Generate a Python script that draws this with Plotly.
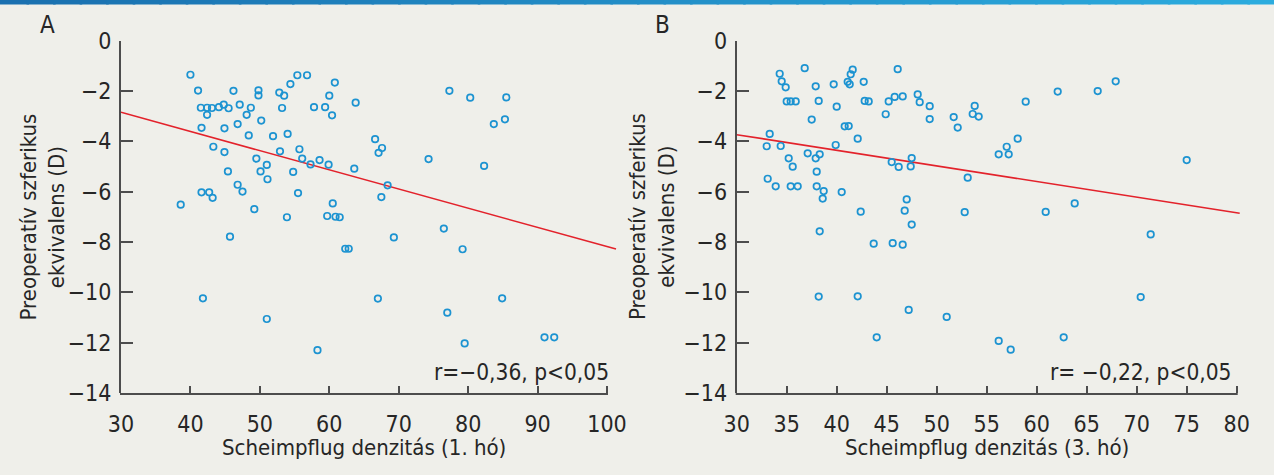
import numpy as np
import plotly.graph_objects as go

# ---------------- data ----------------
# Panel A: Scheimpflug density (1st month) vs preoperative spherical equivalent
density_1m = [40.0, 41.1, 41.5, 42.4, 43.1, 42.4, 44.1, 44.8, 45.5, 46.2, 47.1, 48.1, 48.7, 49.8, 49.8,
              50.2, 41.6, 44.9, 46.8, 48.4, 43.3, 44.9, 49.5, 45.4, 50.1, 51.0, 51.1, 46.8, 47.5, 41.6,
              42.7, 43.2, 38.6, 49.2, 52.8, 53.5, 53.2, 54.4, 55.4, 56.8, 57.8, 59.4, 60.0, 60.8, 60.4,
              63.8, 51.9, 54.0, 52.9, 55.7, 56.1, 57.3, 58.6, 59.9, 63.6, 54.8, 55.5, 60.5, 53.9, 59.7,
              60.9, 61.5, 45.7, 62.3, 62.8, 41.8, 51.0, 58.3, 77.3, 80.3, 85.5, 85.3, 83.7, 66.6, 67.6,
              67.1, 74.3, 82.3, 68.4, 67.5, 69.3, 76.5, 79.2, 67.0, 77.0, 84.9, 79.5, 91.0, 92.4]
se_1m = [-1.36, -1.99, -2.67, -2.67, -2.68, -2.95, -2.65, -2.55, -2.69, -2.00, -2.55, -2.95, -2.67, -1.98, -2.18,
         -3.18, -3.47, -3.49, -3.32, -3.77, -4.22, -4.43, -4.69, -5.20, -5.20, -4.94, -5.51, -5.73, -6.00, -6.03,
         -6.03, -6.25, -6.52, -6.70, -2.07, -2.19, -2.68, -1.73, -1.38, -1.38, -2.65, -2.65, -2.19, -1.67, -2.97,
         -2.47, -3.80, -3.71, -4.40, -4.32, -4.69, -4.92, -4.75, -4.93, -5.09, -5.22, -6.06, -6.47, -7.02, -6.97,
         -7.00, -7.02, -7.79, -8.27, -8.27, -10.24, -11.06, -12.30, -2.00, -2.27, -2.26, -3.13, -3.32, -3.92, -4.27,
         -4.46, -4.71, -4.98, -5.75, -6.22, -7.82, -7.47, -8.29, -10.25, -10.81, -10.24, -12.03, -11.79, -11.79]

# Panel B: Scheimpflug density (3rd month)
density_3m = [34.3, 34.5, 34.9, 35.0, 35.4, 35.9, 36.8, 37.9, 38.2, 37.5, 33.3, 33.0, 34.4, 35.2, 35.6,
              33.1, 33.9, 35.4, 36.1, 37.1, 37.9, 38.3, 38.0, 38.0, 38.7, 38.6, 40.5, 39.7, 40.0, 39.9,
              41.1, 41.3, 41.4, 41.6, 40.8, 41.2, 42.1, 42.7, 42.8, 43.2, 42.4, 44.9, 45.2, 45.8, 46.1,
              46.6, 48.1, 48.3, 49.3, 49.3, 51.7, 52.1, 45.5, 46.2, 47.5, 47.4, 47.0, 46.8, 52.8, 53.1,
              53.8, 53.6, 54.2, 58.9, 62.1, 66.1, 67.9, 58.1, 57.0, 56.2, 57.2, 60.9, 63.8, 75.0, 38.3,
              47.5, 43.7, 45.6, 46.6, 38.2, 42.1, 47.2, 51.0, 44.0, 71.4, 70.4, 56.2, 57.4, 62.7]
se_3m = [-1.32, -1.62, -1.86, -2.42, -2.42, -2.42, -1.10, -1.82, -2.40, -3.14, -3.71, -4.20, -4.19, -4.68, -5.01,
         -5.49, -5.79, -5.79, -5.79, -4.48, -4.68, -4.52, -5.21, -5.79, -5.98, -6.28, -6.02, -1.74, -2.63, -4.15,
         -1.64, -1.74, -1.34, -1.16, -3.41, -3.40, -3.90, -1.64, -2.40, -2.42, -6.80, -2.93, -2.42, -2.24, -1.14,
         -2.22, -2.14, -2.45, -2.61, -3.12, -3.04, -3.46, -4.83, -5.02, -4.67, -5.00, -6.31, -6.76, -6.82, -5.45,
         -2.60, -2.92, -3.02, -2.43, -2.03, -2.01, -1.62, -3.90, -4.22, -4.52, -4.52, -6.81, -6.47, -4.75, -7.58,
         -7.31, -8.07, -8.05, -8.11, -10.17, -10.16, -10.70, -10.98, -11.79, -7.70, -10.19, -11.93, -12.28, -11.79]

# regression lines as shown (value at x=30, slope, end of drawn line)
fit_a = {"x_start": 30.0, "x_end": 101.3, "y_at_start": -2.85, "slope": -0.0762}
fit_b = {"x_start": 30.0, "x_end": 80.3, "y_at_start": -3.74, "slope": -0.0620}

xticks_a = [30, 40, 50, 60, 70, 80, 90, 100]
xticks_b = [30, 35, 40, 45, 50, 55, 60, 65, 70, 75, 80]
yticks = [0, -2, -4, -6, -8, -10, -12, -14]

labels = ["A", "B"]
x_titles = ["Scheimpflug denzitás (1. hó)", "Scheimpflug denzitás (3. hó)"]
y_title = "Preoperatív szferikus<br>ekvivalens (D)"
stats = ["r=−0,36, p<0,05", "r= −0,22, p<0,05"]

# ---------------- style ----------------
W, H = 1274, 475
BG = "#efefea"
FONT = "DejaVu Sans Condensed, Liberation Sans Narrow, Arial Narrow, sans-serif"
TXT = "#262626"
AX = "#4d4d4d"
BLUE = "#1c93d1"
RED = "#e3222b"

def px_x(p):
    return p / W

def px_y(p):
    return 1 - p / H

xr_a = [30, 101.5]
xr_b = [30, 80.4]
dom_a = [px_x(121), px_x(617.4)]
dom_b = [px_x(736.7), px_x(1240.7)]
dom_y = [px_y(393), px_y(40.5)]

fig = go.Figure()

def fit_line(f):
    xs = np.array([f["x_start"], f["x_end"]])
    ys = f["y_at_start"] + f["slope"] * (xs - f["x_start"])
    return xs, ys

marker = dict(symbol="circle-open", size=6.5, color=BLUE, line=dict(width=1.7, color=BLUE))

fx, fy = fit_line(fit_a)
fig.add_trace(go.Scatter(x=fx, y=fy, mode="lines", line=dict(color=RED, width=1.6),
                         xaxis="x", yaxis="y", hoverinfo="skip"))
fig.add_trace(go.Scatter(x=density_1m, y=se_1m, mode="markers", marker=marker,
                         xaxis="x", yaxis="y", cliponaxis=False))
fx, fy = fit_line(fit_b)
fig.add_trace(go.Scatter(x=fx, y=fy, mode="lines", line=dict(color=RED, width=1.6),
                         xaxis="x2", yaxis="y2", hoverinfo="skip"))
fig.add_trace(go.Scatter(x=density_3m, y=se_3m, mode="markers", marker=marker,
                         xaxis="x2", yaxis="y2", cliponaxis=False))

tickfont = dict(family=FONT, size=23, color=TXT)

def xaxis(rng, dom, ticks, anchor):
    return dict(range=rng, domain=dom, anchor=anchor, tickvals=ticks, ticktext=[str(t) for t in ticks],
                ticks="inside", ticklen=7, tickwidth=2, tickcolor=AX, showline=False, automargin=False,
                showgrid=False, zeroline=False, tickfont=tickfont, ticklabelstandoff=15, fixedrange=True)

def yaxis(dom, anchor):
    return dict(range=[-14, 0], domain=dom, anchor=anchor, tickvals=yticks, automargin=False,
                ticks="inside", ticklen=12, tickwidth=2, tickcolor=AX, showline=True, linewidth=2,
                linecolor=AX, showgrid=False, zeroline=False, tickfont=tickfont, ticklabelstandoff=3,
                fixedrange=True)

shapes = []
# top gradient bar
n = 48
c0 = np.array([26, 112, 176])
c1 = np.array([44, 172, 222])
for i in range(n):
    c = (c0 + (c1 - c0) * i / (n - 1)).astype(int)
    shapes.append(dict(type="rect", xref="paper", yref="paper", x0=i / n, x1=min((i + 1) / n + 0.002, 1),
                       y0=px_y(4.5), y1=1, line=dict(width=0), fillcolor=f"rgb({c[0]},{c[1]},{c[2]})"))

# x-axis lines (ending at last tick)
for dom, rng, last in [(dom_a, xr_a, 100), (dom_b, xr_b, 80)]:
    x_end = dom[0] + (last - rng[0]) / (rng[1] - rng[0]) * (dom[1] - dom[0])
    shapes.append(dict(type="line", xref="paper", yref="paper", x0=dom[0] - 1 / W, x1=x_end + 1 / W,
                       y0=dom_y[0] - 1 / H, y1=dom_y[0] - 1 / H, line=dict(color=AX, width=2)))

annotations = []
for lab, xp in zip(labels, [48, 662]):
    annotations.append(dict(text=lab, xref="paper", yref="paper", x=px_x(xp), y=px_y(25),
                            showarrow=False, font=dict(family=FONT, size=24, color=TXT),
                            xanchor="center", yanchor="middle"))
for t, xp in zip(x_titles, [364, 986.7]):
    annotations.append(dict(text=t, xref="paper", yref="paper", x=px_x(xp), y=px_y(447),
                            showarrow=False, font=dict(family=FONT, size=22, color=TXT),
                            xanchor="center", yanchor="middle"))
for xp in [42.5, 652]:
    annotations.append(dict(text=y_title, xref="paper", yref="paper", x=px_x(xp), y=px_y(217),
                            showarrow=False, textangle=-90, font=dict(family=FONT, size=22, color=TXT),
                            xanchor="center", yanchor="middle"))
for t, xp in zip(stats, [611, 1233]):
    annotations.append(dict(text=t, xref="paper", yref="paper", x=px_x(xp), y=px_y(372),
                            showarrow=False, font=dict(family=FONT, size=22.5, color=TXT),
                            xanchor="right", yanchor="middle"))

fig.update_layout(
    width=W, height=H, autosize=False, margin=dict(l=0, r=0, t=0, b=0, pad=0, autoexpand=False),
    paper_bgcolor=BG, plot_bgcolor=BG, showlegend=False,
    xaxis=xaxis(xr_a, dom_a, xticks_a, "y"),
    yaxis=yaxis(dom_y, "x"),
    xaxis2=xaxis(xr_b, dom_b, xticks_b, "y2"),
    yaxis2=yaxis(dom_y, "x2"),
    shapes=shapes, annotations=annotations,
    font=dict(family=FONT, color=TXT),
)

fig.write_html(
    "out.html",
    config={"displayModeBar": False},
    post_script="document.body.style.margin='0';document.body.style.padding='0';"
                "document.body.style.overflow='hidden';document.body.style.background='" + BG + "';",
)
